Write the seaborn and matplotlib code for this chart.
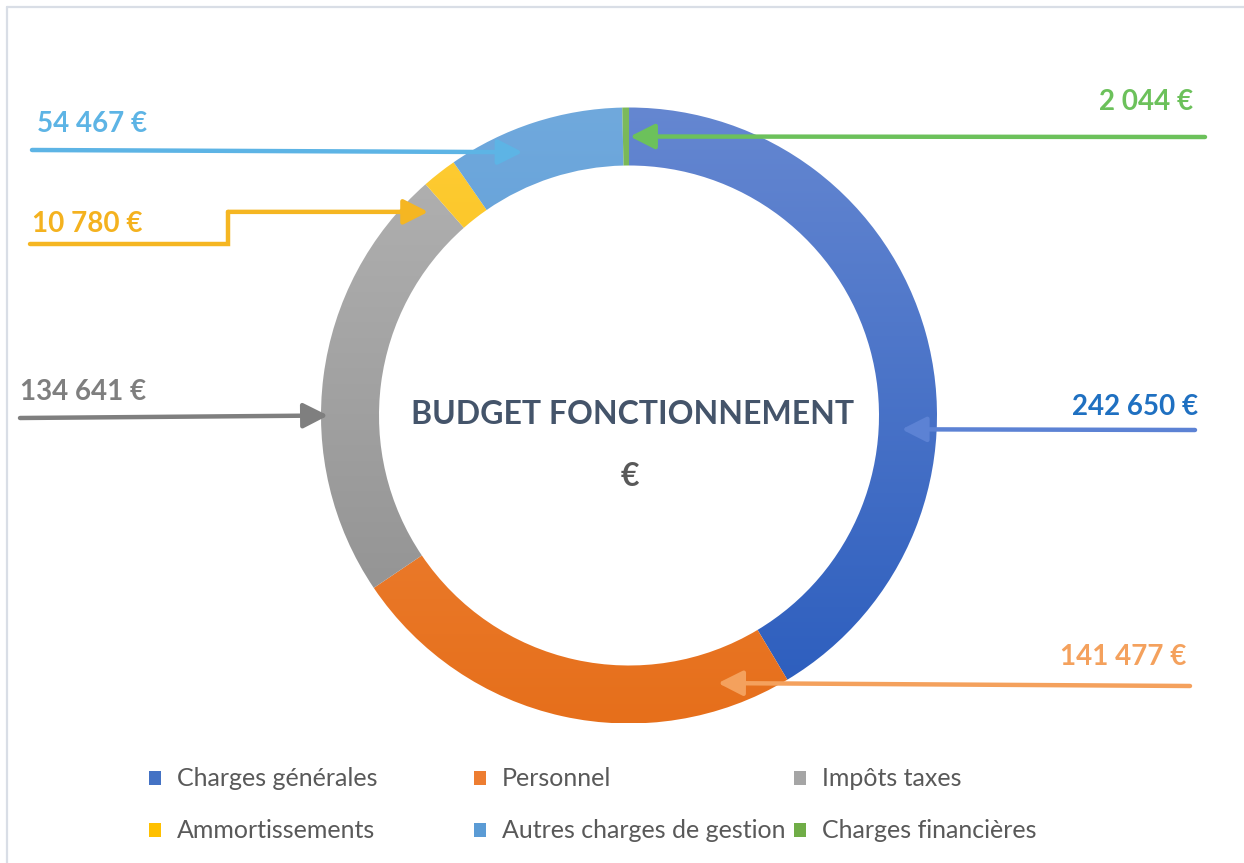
import numpy as np
import matplotlib
matplotlib.use('Agg')
import matplotlib.pyplot as plt
import seaborn as sns
from matplotlib.colors import LinearSegmentedColormap
from matplotlib.patches import Rectangle

# Data
categories = ['Charges générales', 'Personnel', 'Impôts taxes',
              'Ammortissements', 'Autres charges de gestion', 'Charges financières']
values = [242650, 141477, 134641, 10780, 54467, 2044]
value_labels = ['242 650 €', '141 477 €', '134 641 €', '10 780 €', '54 467 €', '2 044 €']

# Styles: gradient (top, bottom) for each slice, legend colour, label colour
grad_top = ['#6587D1', '#F4924D', '#B4B4B4', '#FFCD36', '#70A9DD', '#7DBA5B']
grad_bottom = ['#2A5CBD', '#E66F1B', '#8C8C8C', '#EFB300', '#4A8FCF', '#60A13C']
legend_colors = ['#4472C4', '#ED7D31', '#A5A5A5', '#FFC000', '#5B9BD5', '#70AD47']
label_colors = ['#1F70C1', '#F4A15D', '#7F7F7F', '#F4B21F', '#5DB4E5', '#6CC15B']
line_colors = ['#5C82D4', '#F4A15D', '#7F7F7F', '#F5B622', '#5DB4E5', '#6CC15B']

# Layout in pixels (y from the top of the picture)
W, H = 1244, 863
cx, cy = 629, 415.5
r_out, r_in = 308, 250
label_pos = [(1198, 407), (1186, 657), (20, 392), (32, 224), (37, 124), (1193, 102)]
label_ha = ['right', 'right', 'left', 'left', 'left', 'right']
line_start = [(1195, 430), (1190, 686), (20, 418), (30, 244), (32, 150), (1205, 137)]
tip_angle = [-2.9, -71.6, 180.0, 134.6, 112.0, 89.8]
tip_r = [273, 282, 301, 286, 284, 279]
legend_pos = [(155, 778), (480, 778), (800, 778), (155, 830), (480, 830), (800, 830)]

sns.set_style('white')
plt.rcParams['font.family'] = ['Lato', 'DejaVu Sans']

fig = plt.figure(figsize=(W / 100, H / 100), dpi=100)
ax = fig.add_axes([0, 0, 1, 1])
ax.set_xlim(0, W)
ax.set_ylim(0, H)
ax.axis('off')


def py(y):
    return H - y


wedges, _ = ax.pie(values, startangle=90, counterclock=False,
                   center=(cx, py(cy)), radius=r_out,
                   wedgeprops=dict(width=r_out - r_in, linewidth=0))

# vertical gradient fill, clipped to each slice
grad = np.linspace(0, 1, 256).reshape(-1, 1)
for i, w in enumerate(wedges):
    cmap = LinearSegmentedColormap.from_list('g%d' % i, [grad_top[i], grad_bottom[i]])
    w.set_facecolor('none')
    im = ax.imshow(grad, cmap=cmap, aspect='auto', interpolation='bilinear',
                   extent=(cx - r_out, cx + r_out, py(cy + r_out), py(cy - r_out)),
                   zorder=1)
    im.set_clip_path(w)

ax.set_xlim(0, W)
ax.set_ylim(0, H)

# leader lines with arrows
arrow = dict(arrowstyle='-|>,head_length=0.75,head_width=0.38', lw=3.2,
             shrinkA=0, shrinkB=0, mutation_scale=20)
for i in range(len(values)):
    a = np.deg2rad(tip_angle[i])
    tx = cx + tip_r[i] * np.cos(a)
    ty = cy - tip_r[i] * np.sin(a)
    sx, sy = line_start[i]
    if categories[i] == 'Ammortissements':
        ax.plot([sx, 228, 228], [py(sy), py(sy), py(ty)], color=line_colors[i],
                lw=3.2, solid_joinstyle='miter', zorder=3)
        sx, sy = 228, ty
    ax.annotate('', xy=(tx, py(ty)), xytext=(sx, py(sy)),
                arrowprops=dict(arrow, color=line_colors[i]), zorder=4)
    lx, ly = label_pos[i]
    ax.text(lx, py(ly), value_labels[i], ha=label_ha[i], va='center',
            fontsize=20, fontweight='bold', color=label_colors[i])

# centre title
ax.text(633, py(414), 'BUDGET FONCTIONNEMENT', ha='center', va='center',
        fontsize=23, fontweight='bold', color='#44546A')
ax.text(630, py(476), '€', ha='center', va='center',
        fontsize=23, fontweight='bold', color='#595959')

# legend
for i, cat in enumerate(categories):
    x, y = legend_pos[i]
    ax.add_patch(Rectangle((x - 6, py(y) - 7), 12, 14, facecolor=legend_colors[i],
                           edgecolor='none'))
    ax.text(x + 22, py(y), cat, ha='left', va='center', fontsize=18, color='#595959')

# chart frame (top and left edges visible)
ax.plot([7, W], [py(7), py(7)], color='#D9DEE6', lw=1.6)
ax.plot([7, 7], [py(7), 0], color='#D9DEE6', lw=1.6)

fig.savefig('out.png', dpi=100, facecolor='white')
